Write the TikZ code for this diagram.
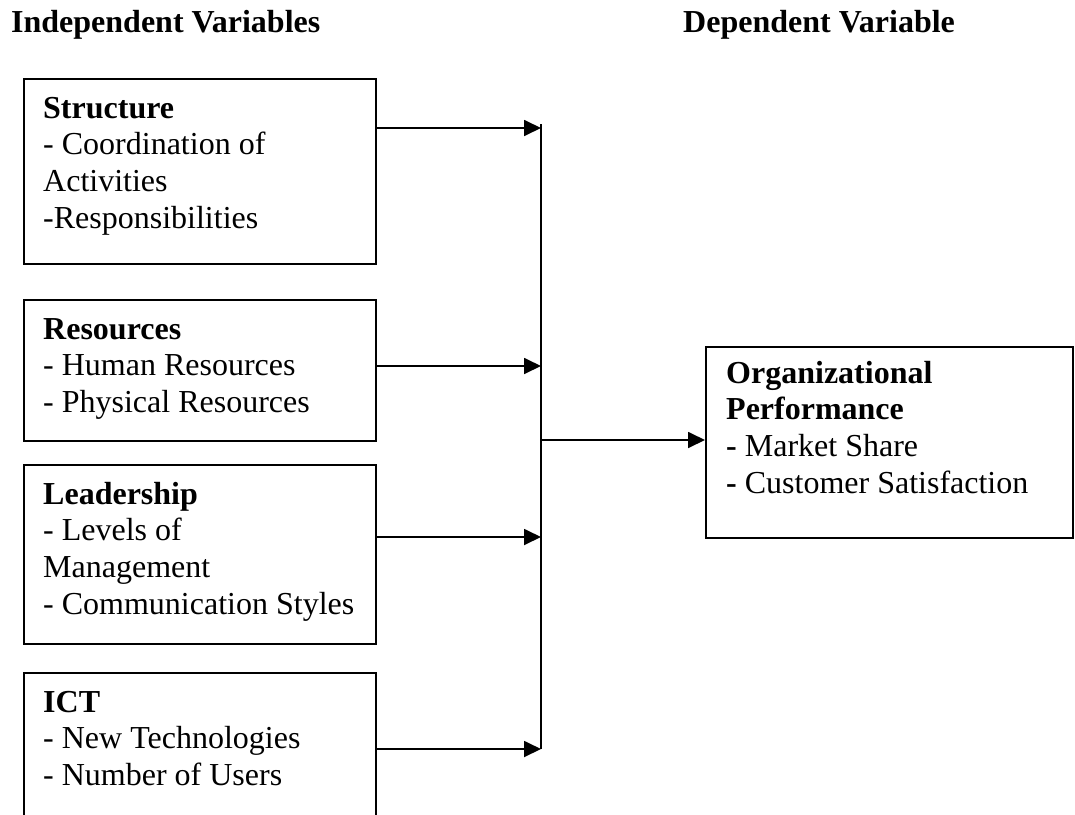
\documentclass[tikz,border=0pt]{standalone}
\usepackage{fontspec}
\setmainfont{Liberation Serif}
\usetikzlibrary{arrows.meta}
\begin{document}
\begin{tikzpicture}[x=1pt,y=-1pt,
  every node/.style={font=\fontsize{32}{36.7}\selectfont},
  varbox/.style={draw, line width=1.8pt, inner sep=0pt, anchor=north west},
  boxtext/.style={anchor=base west, inner sep=0pt, align=flush left, text width=#1},
  heading/.style={anchor=base west, inner sep=0pt, font=\fontsize{32}{36.7}\selectfont\bfseries},
  arr/.style={line width=1.8pt, -{Triangle[length=17pt,width=16pt]}},
  bus/.style={line width=1.8pt}]
\useasboundingbox (0,0) rectangle (1075,814);
\clip (0,0) rectangle (1075,814);

% headings
\node[heading] (hind) at (11,32) {Independent Variables};
\node[heading] (hdep) at (683,32) {Dependent Variable};

% boxes
\node[varbox, minimum width=352pt, minimum height=185pt] (s) at (23,78) {};
\node[varbox, minimum width=352pt, minimum height=141pt] (r) at (23,299) {};
\node[varbox, minimum width=352pt, minimum height=179pt] (l) at (23,464) {};
\node[varbox, minimum width=352pt, minimum height=170pt] (i) at (23,672) {};
\node[varbox, minimum width=367pt, minimum height=191pt] (o) at (705,346) {};

% texts
\node[boxtext=320pt] (st) at (43,118) {\textbf{Structure}\\- Coordination of\\Activities\\-Responsibilities};
\node[boxtext=320pt] (rt) at (43,339) {\textbf{Resources}\\- Human Resources\\- Physical Resources};
\node[boxtext=330pt] (lt) at (43,504) {\textbf{Leadership}\\- Levels of\\Management\\- Communication Styles};
\node[boxtext=320pt] (it) at (43,712) {\textbf{ICT}\\- New Technologies\\- Number of Users};
\node[boxtext=340pt] (ot) at (726,383) {\textbf{Organizational}\\\textbf{Performance}\\\textbf{-} Market Share\\\textbf{-} Customer Satisfaction};

% bus
\coordinate (btop) at (541,124);
\coordinate (bbot) at (541,749);
\coordinate (bs) at (541,128);
\coordinate (br) at (541,366);
\coordinate (bl) at (541,537);
\coordinate (bi) at (541,749);
\coordinate (bo) at (541,440);

\draw[bus] (btop) -- (bbot);
\draw[arr] (s.east |- bs) -- (bs);
\draw[arr] (r.east |- br) -- (br);
\draw[arr] (l.east |- bl) -- (bl);
\draw[arr] (i.east |- bi) -- (bi);
\draw[arr] (bo) -- (o.west |- bo);
\end{tikzpicture}
\end{document}
